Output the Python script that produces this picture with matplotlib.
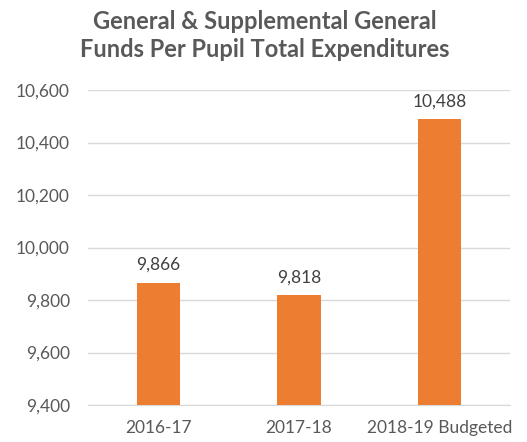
import matplotlib.pyplot as plt

categories = ['2016-17', '2017-18', '2018-19 Budgeted']
values = [9866, 9818, 10488]
yticks = [9400, 9600, 9800, 10000, 10200, 10400, 10600]

plt.rcParams['font.family'] = ['Lato', 'DejaVu Sans']

fig = plt.figure(figsize=(5.27, 4.42), dpi=100)
ax = fig.add_axes([88 / 527, 1 - 405 / 442, 422 / 527, 315 / 442])

x = range(len(categories))
ax.bar(x, values, width=0.31, color='#ED7D31', zorder=3)
for i, v in enumerate(values):
    ax.annotate(f'{v:,}', (i, v), xytext=(0, 7), textcoords='offset points',
                ha='center', va='bottom', fontsize=12.5, color='#404040')

ax.set_ylim(9400, 10600)
ax.set_xlim(-0.5, 2.5)
ax.set_yticks(yticks)
ax.set_yticklabels([f'{t:,}' for t in yticks], fontsize=12.5, color='#595959')
ax.set_xticks(list(x))
ax.set_xticklabels(categories, fontsize=12.5, color='#595959')
ax.tick_params(axis='y', length=0, pad=13)
ax.tick_params(axis='x', length=0, pad=11)
ax.grid(axis='y', color='#D9D9D9', linewidth=1, zorder=0)
for s in ['left', 'right', 'top']:
    ax.spines[s].set_visible(False)
ax.spines['bottom'].set_color('#D9D9D9')

fig.text(0.503, 0.978, 'General & Supplemental General\nFunds Per Pupil Total Expenditures',
         ha='center', va='top', fontsize=17, fontweight='bold', color='#595959', linespacing=1.3)

fig.savefig('out.png', dpi=100)
